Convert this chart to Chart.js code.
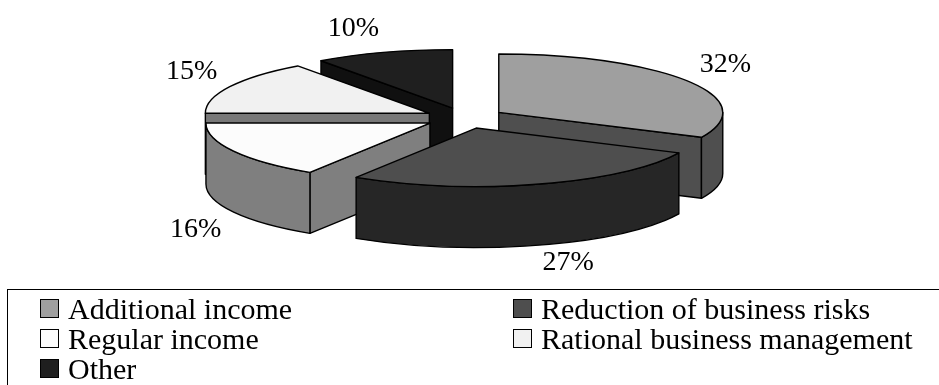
<!DOCTYPE html>
<html>
<head>
<meta charset="utf-8">
<script src="https://cdn.jsdelivr.net/npm/chart.js@4/dist/chart.umd.min.js"></script>
<style>
  html, body { margin: 0; padding: 0; background: #fff; }
  #wrap { position: relative; width: 939px; height: 385px; overflow: hidden;
          font-family: "Liberation Serif", "Times New Roman", serif; }
  #pie { position: absolute; left: 0; top: 0; }
  #legendFrame { position: absolute; left: 7px; top: 289px; width: 1000px; height: 200px;
                 border: 1.5px solid #000; box-sizing: border-box; }
  .lg-text { position: absolute; font-family: "Liberation Serif", "Times New Roman", serif;
             font-size: 30px; line-height: 30px; white-space: nowrap; color: #000; }
  .lg-box { position: absolute; width: 19px; height: 19px; border: 1.5px solid #000; box-sizing: border-box; }
</style>
</head>
<body>
<div id="wrap">
  <canvas id="pie" width="939" height="290"></canvas>
  <div id="legendFrame"></div>
</div>
<script>
// Survey answers: reasons for the activity (shares, %)
const categories = [
  'Additional income',
  'Reduction of business risks',
  'Regular income',
  'Rational business management',
  'Other'
];
const shares = [32, 27, 16, 15, 10];

// Grey-scale palette: top faces and darker side walls
const topColors  = ['#9f9f9f', '#4e4e4e', '#fcfcfc', '#f1f1f1', '#1f1f1f'];
const sideColors = ['#4f4f4f', '#262626', '#7f7f7f', '#787878', '#101010'];

// 3D look of the pie
const TILT = 0.261;     // vertical squash of the disc
const DEPTH = 61;       // wall height in px
const EXPLODE = 40;     // radial shift of each slice in px
const OUTLINE = '#000';

const total = shares.reduce((a, b) => a + b, 0);

// Draws the pie as an exploded, extruded disc using the arc geometry Chart.js computed
const pie3d = {
  id: 'pie3d',
  beforeDatasetsDraw(chart) {
    const ctx = chart.ctx;
    const arcs = chart.getDatasetMeta(0).data;
    const faces = [];
    const tops = [];

    arcs.forEach((arc, i) => {
      const p = arc.getProps(['x', 'y', 'startAngle', 'endAngle', 'outerRadius'], true);
      const R = p.outerRadius;
      const a0 = p.startAngle, a1 = p.endAngle, mid = (a0 + a1) / 2;
      // slice centre in plane coords, then projected
      const pyPlane = EXPLODE * Math.sin(mid);
      const sx = p.x + EXPLODE * Math.cos(mid), sy = p.y + pyPlane * TILT;
      const T = a => [sx + R * Math.cos(a), sy + R * TILT * Math.sin(a)];
      const radial = a => c => {
        const t = T(a);
        c.moveTo(sx, sy); c.lineTo(t[0], t[1]); c.lineTo(t[0], t[1] + DEPTH); c.lineTo(sx, sy + DEPTH); c.closePath();
      };

      // radial faces turned towards the viewer
      if (Math.cos(a0) < -1e-6) faces.push({ key: pyPlane + R / 2 * Math.sin(a0), color: sideColors[i], path: radial(a0) });
      if (Math.cos(a1) > 1e-6)  faces.push({ key: pyPlane + R / 2 * Math.sin(a1), color: sideColors[i], path: radial(a1) });

      // outer wall on the front half
      const s = Math.max(a0, 0), e = Math.min(a1, Math.PI);
      if (e > s) {
        const m = (s + e) / 2;
        faces.push({ key: pyPlane + R * Math.sin(m), color: sideColors[i], path: c => {
          const ts = T(s), te = T(e);
          c.moveTo(ts[0], ts[1]);
          c.ellipse(sx, sy, R, R * TILT, 0, s, e, false);
          c.lineTo(te[0], te[1] + DEPTH);
          c.ellipse(sx, sy + DEPTH, R, R * TILT, 0, e, s, true);
          c.closePath();
        }});
      }
      tops.push({ color: topColors[i], path: c => {
        c.moveTo(sx, sy);
        c.ellipse(sx, sy, R, R * TILT, 0, a0, a1, false);
        c.closePath();
      }});
    });

    faces.sort((a, b) => a.key - b.key);
    ctx.save();
    ctx.lineWidth = 1.4;
    ctx.lineJoin = 'round';
    ctx.strokeStyle = OUTLINE;
    [...faces, ...tops].forEach(f => {
      ctx.beginPath();
      f.path(ctx);
      ctx.fillStyle = f.color;
      ctx.fill();
      ctx.stroke();
    });
    ctx.restore();
    return false;
  },
  afterDraw(chart) {
    const ctx = chart.ctx;
    const arcs = chart.getDatasetMeta(0).data;
    ctx.save();
    ctx.font = '28px "Liberation Serif", "Times New Roman", serif';
    ctx.fillStyle = '#000';
    ctx.textAlign = 'center';
    ctx.textBaseline = 'alphabetic';
    arcs.forEach((arc, i) => {
      const p = arc.getProps(['x', 'y', 'startAngle', 'endAngle', 'outerRadius'], true);
      const R = p.outerRadius;
      const mid = (p.startAngle + p.endAngle) / 2;
      const c = Math.cos(mid), sn = Math.sin(mid);
      const sx = p.x + EXPLODE * c, sy = p.y + EXPLODE * sn * TILT;
      const text = Math.round(shares[i] / total * 100) + '%';
      const w = ctx.measureText(text).width;
      // anchor on the rim (lower rim for the front half), label pushed outwards
      let ax = sx + R * c, ay = sy + R * TILT * sn, dy;
      if (sn > 0) { ay += DEPTH; dy = 15; } else { dy = sn * 18 - 9; }
      const dx = c * 14 + Math.sign(c) * w / 2;
      ctx.fillText(text, ax + dx, ay + dy + 9.5);
    });
    ctx.restore();
  }
};

new Chart(document.getElementById('pie'), {
  type: 'pie',
  data: {
    labels: categories,
    datasets: [{
      data: shares,
      backgroundColor: topColors,
      borderColor: OUTLINE,
      borderWidth: 1,
      radius: 224
    }]
  },
  options: {
    responsive: false,
    animation: false,
    events: [],
    layout: { padding: { left: 0, right: 9, top: 0, bottom: 54 } },
    plugins: { legend: { display: false }, tooltip: { enabled: false } }
  },
  plugins: [pie3d]
});

// Legend: two columns, row-major order
const wrap = document.getElementById('wrap');
const colBox = [40, 513], colText = [68, 541];
categories.forEach((name, i) => {
  const col = i % 2, row = Math.floor(i / 2);
  const baseline = 319 + row * 30;
  const box = document.createElement('div');
  box.className = 'lg-box';
  box.style.left = colBox[col] + 'px';
  box.style.top = (baseline - 20) + 'px';
  box.style.background = topColors[i];
  wrap.appendChild(box);
  const t = document.createElement('div');
  t.className = 'lg-text';
  t.style.left = colText[col] + 'px';
  t.style.top = (baseline - 25) + 'px';
  t.textContent = name;
  wrap.appendChild(t);
});
</script>
</body>
</html>
